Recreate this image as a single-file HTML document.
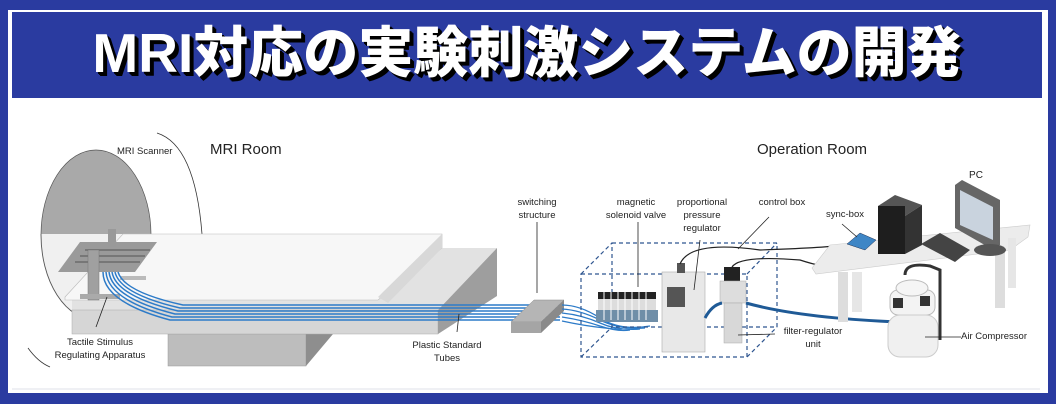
<!DOCTYPE html>
<html><head><meta charset="utf-8"><style>
html,body{margin:0;padding:0}
body{width:1056px;height:404px;background:#2a3ba0;position:relative;overflow:hidden;font-family:"Liberation Sans",sans-serif}
#white{position:absolute;left:8px;top:10px;width:1040px;height:383px;background:#fff}
#banner{position:absolute;left:12px;top:12px;width:1030px;height:86px;background:#2a3ba0;text-align:center}
#banner span{display:inline-block;margin-top:10px;font-family:"Liberation Sans","Noto Sans CJK JP",sans-serif;font-weight:900;font-size:55px;line-height:62px;color:#fff;letter-spacing:0px;text-shadow:3px 3px 0 #000,2px 2px 0 #000,4px 4px 0 #000}
svg{position:absolute;left:0;top:0}
text{font-family:"Liberation Sans",sans-serif;fill:#222}
</style></head><body>
<div id="white"></div>
<div id="banner"><span>MRI対応の実験刺激システムの開発</span></div>
<svg width="1056" height="404" viewBox="0 0 1056 404">
<line x1="12" y1="389" x2="1040" y2="389" stroke="#dfe0ea" stroke-width="1"/>
<defs><clipPath id="up"><rect x="0" y="0" width="300" height="234"/></clipPath><clipPath id="lo"><rect x="0" y="234" width="300" height="200"/></clipPath></defs>
<ellipse cx="96" cy="235" rx="55" ry="85" fill="#a9a9a9" stroke="#555" stroke-width="0.7" clip-path="url(#up)"/>
<ellipse cx="96" cy="235" rx="55" ry="85" fill="#f0f0f0" stroke="#555" stroke-width="0.9" clip-path="url(#lo)"/>
<path d="M157 133 Q195 145 202 234" fill="none" stroke="#333" stroke-width="0.8"/>
<path d="M28 348 Q38 362 50 367" fill="none" stroke="#333" stroke-width="0.8"/>
<rect x="168" y="334" width="138" height="32" fill="#bdbdbd" stroke="#999" stroke-width="0.5"/>
<polygon points="306,334 333,334 306,366" fill="#8e8e8e"/>
<polygon points="378,298 442,248 497,248 438,310 72,310 72,298" fill="#e2e2e2"/>
<rect x="72" y="310" width="366" height="24" fill="#d6d6d6" stroke="#aaa" stroke-width="0.5"/>
<polygon points="438,310 497,248 497,296 438,334" fill="#9e9e9e"/>
<polygon points="65,297 123,234 442,234 442,248 378,300 65,300" fill="#f7f7f7" stroke="#bbb" stroke-width="0.6"/>
<polygon points="378,297 442,234 442,248 388,303" fill="#d8d8d8"/>
<polygon points="58,272 80,242 157,242 135,272" fill="#9a9a9a"/>
<g stroke="#777" stroke-width="2">
<line x1="75" y1="262" x2="140" y2="262"/><line x1="80" y1="256" x2="145" y2="256"/><line x1="85" y1="250" x2="150" y2="250"/>
</g>
<rect x="108" y="229" width="8" height="18" fill="#999"/>
<rect x="88" y="250" width="11" height="50" fill="#a0a0a0" stroke="#777" stroke-width="0.5"/>
<rect x="80" y="294" width="40" height="5" fill="#aaa"/>
<rect x="120" y="276" width="26" height="4" fill="#bbb"/>
<g fill="none" stroke="#2d7bc8" stroke-width="1.5">
<path d="M103 272 Q103 302 170 320 L560 320"/>
<path d="M106 272 Q108 300 172 317 L560 317"/>
<path d="M109 272 Q112 298 175 314 L560 314"/>
<path d="M112 272 Q116 296 178 311 L560 311"/>
<path d="M115 272 Q120 294 180 308 L560 308"/>
<path d="M118 272 Q124 292 183 305 L560 305"/>
</g>
<polygon points="511,322 534,300 564,300 541,322" fill="#b5b5b5" stroke="#888" stroke-width="0.5"/>
<rect x="511" y="322" width="30" height="11" fill="#a5a5a5"/>
<polygon points="541,322 564,300 564,311 541,333" fill="#8a8a8a"/>
<g fill="none" stroke="#2d7bc8" stroke-width="1.3">
<path d="M562 305 Q580 305 600 318 T650 326"/><path d="M562 309 Q580 310 600 320 T645 328"/>
<path d="M562 313 Q582 315 600 323 T640 329"/><path d="M562 317 Q582 320 600 326 T630 330"/>
<path d="M562 321 Q585 326 605 328 T620 330"/>
</g>
<g fill="none" stroke="#2f5690" stroke-width="1.2" stroke-dasharray="4,3">
<rect x="581" y="274" width="166" height="83"/>
<rect x="612" y="243" width="165" height="84"/>
<line x1="581" y1="274" x2="612" y2="243"/><line x1="747" y1="274" x2="777" y2="243"/>
<line x1="747" y1="357" x2="777" y2="327"/><line x1="581" y1="357" x2="612" y2="327"/>
</g>
<rect x="598" y="292" width="58" height="7" fill="#222"/>
<rect x="598" y="299" width="58" height="11" fill="#ddd"/>
<rect x="596" y="310" width="62" height="12" fill="#6f8ea8"/>
<g stroke="#fff" stroke-width="1"><line x1="604" y1="292" x2="604" y2="320"/><line x1="611" y1="292" x2="611" y2="320"/><line x1="618" y1="292" x2="618" y2="320"/><line x1="625" y1="292" x2="625" y2="320"/><line x1="632" y1="292" x2="632" y2="320"/><line x1="639" y1="292" x2="639" y2="320"/><line x1="646" y1="292" x2="646" y2="320"/></g>
<rect x="662" y="272" width="43" height="80" fill="#e8e8e8" stroke="#aaa" stroke-width="0.6"/>
<rect x="677" y="263" width="8" height="10" fill="#555"/>
<rect x="667" y="287" width="18" height="20" fill="#555"/>
<rect x="724" y="267" width="16" height="14" fill="#222"/>
<rect x="720" y="281" width="26" height="22" fill="#ddd" stroke="#aaa" stroke-width="0.5"/>
<rect x="724" y="303" width="18" height="40" fill="#d8d8d8" stroke="#aaa" stroke-width="0.5"/>
<path d="M705 318 Q712 305 722 303" fill="none" stroke="#1f5a96" stroke-width="3"/>
<path d="M746 303 Q800 318 900 322" fill="none" stroke="#1f5a96" stroke-width="3"/>
<path d="M680 264 Q690 240 760 250 Q820 248 845 245" fill="none" stroke="#222" stroke-width="1.2"/>
<path d="M732 267 Q740 255 800 260 Q860 280 890 250" fill="none" stroke="#222" stroke-width="1.2"/>
<polygon points="812,268 830,245 1030,225 1028,237 1010,250 816,274" fill="#ececec" stroke="#ccc" stroke-width="0.6"/>
<rect x="838" y="272" width="10" height="50" fill="#ddd"/><rect x="852" y="272" width="10" height="40" fill="#e6e6e6"/>
<rect x="995" y="248" width="10" height="60" fill="#ddd"/><rect x="1008" y="238" width="8" height="50" fill="#e6e6e6"/>
<polygon points="847,244 860,233 876,240 865,250" fill="#3e86c6" stroke="#235" stroke-width="0.5"/>
<polygon points="878,206 895,195 922,205 905,216" fill="#555"/>
<rect x="878" y="206" width="27" height="48" fill="#1e1e1e"/>
<polygon points="905,216 922,205 922,245 905,254" fill="#333"/>
<polygon points="921,244 940,233 970,250 955,262" fill="#444"/>
<polygon points="955,185 962,180 1000,200 1000,245 990,248 955,228" fill="#666"/>
<polygon points="960,190 993,207 993,240 960,225" fill="#c9d3de"/>
<ellipse cx="990" cy="250" rx="16" ry="6" fill="#555"/>
<path d="M905 275 Q905 262 930 266 L940 270 L940 340" fill="none" stroke="#333" stroke-width="3"/>
<rect x="890" y="290" width="45" height="25" rx="8" fill="#f3f3f3" stroke="#bbb"/>
<ellipse cx="912" cy="288" rx="16" ry="8" fill="#f5f5f5" stroke="#bbb"/>
<rect x="888" y="315" width="50" height="42" rx="12" fill="#f0f0f0" stroke="#ccc"/>
<rect x="893" y="298" width="10" height="10" fill="#333"/><rect x="920" y="296" width="10" height="10" fill="#333"/>
<g stroke="#222" stroke-width="0.8">
<line x1="107" y1="297" x2="96" y2="327"/><line x1="459" y1="314" x2="457" y2="332"/>
<line x1="537" y1="222" x2="537" y2="293"/><line x1="638" y1="222" x2="638" y2="287"/>
<line x1="700" y1="240" x2="694" y2="290"/><line x1="769" y1="217" x2="738" y2="249"/>
<line x1="842" y1="224" x2="857" y2="237"/><line x1="775" y1="334" x2="738" y2="335"/>
<line x1="925" y1="337" x2="961" y2="337"/>
</g>
<text x="117" y="154" font-size="9.5">MRI Scanner</text>
<text x="210" y="154" font-size="15">MRI Room</text>
<text x="757" y="154" font-size="15">Operation Room</text>
<text x="976" y="178" font-size="10" text-anchor="middle">PC</text>
<g font-size="9.5" text-anchor="middle">
<text x="537" y="205">switching</text><text x="537" y="218">structure</text>
<text x="636" y="205">magnetic</text><text x="636" y="218">solenoid valve</text>
<text x="702" y="205">proportional</text><text x="702" y="218">pressure</text><text x="702" y="231">regulator</text>
<text x="782" y="205">control box</text>
<text x="845" y="217">sync-box</text>
<text x="813" y="334">filter-regulator</text><text x="813" y="347">unit</text>
<text x="100" y="345">Tactile Stimulus</text><text x="100" y="358">Regulating Apparatus</text>
<text x="447" y="348">Plastic Standard</text><text x="447" y="361">Tubes</text>
</g>
<text x="961" y="339" font-size="9.5">Air Compressor</text>
</svg>
</body></html>
